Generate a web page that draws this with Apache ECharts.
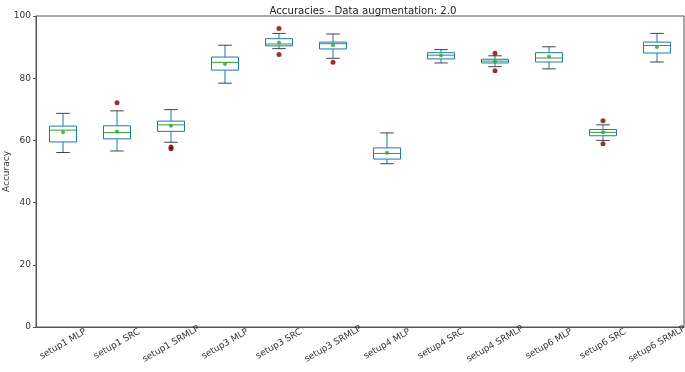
<!DOCTYPE html>
<html>
<head>
<meta charset="utf-8">
<script src="https://cdn.jsdelivr.net/npm/echarts@6/dist/echarts.min.js"></script>
<style>
  html, body { margin: 0; padding: 0; background: #fff; }
  #chart { width: 685px; height: 372px; }
</style>
</head>
<body>
<div id="chart"></div>
<script>
const categories = ['setup1 MLP', 'setup1 SRC', 'setup1 SRMLP', 'setup3 MLP', 'setup3 SRC', 'setup3 SRMLP',
  'setup4 MLP', 'setup4 SRC', 'setup4 SRMLP', 'setup6 MLP', 'setup6 SRC', 'setup6 SRMLP'];

const whiskerLow  = [56.1, 56.6, 59.4, 78.4, 89.5, 86.4, 52.5, 84.9, 83.7, 83.0, 60.0, 85.2];
const q1          = [59.5, 60.5, 62.9, 82.6, 90.4, 89.4, 54.0, 86.2, 84.9, 85.2, 61.5, 88.1];
const medians     = [63.3, 62.5, 65.0, 85.1, 91.0, 91.1, 55.8, 87.4, 85.5, 86.5, 62.6, 90.5];
const q3          = [64.6, 64.7, 66.2, 86.8, 92.7, 91.6, 57.6, 88.2, 86.1, 88.2, 63.5, 91.6];
const whiskerHigh = [68.7, 69.5, 69.9, 90.6, 94.4, 94.2, 62.4, 89.2, 87.2, 90.1, 65.0, 94.4];
const means       = [62.6, 62.9, 64.7, 84.6, 91.5, 90.6, 56.0, 87.3, 85.4, 87.0, 62.6, 90.0];

// [category index, value]
const outliers = [
  [1, 72.1],
  [2, 57.9], [2, 57.3],
  [4, 96.0], [4, 87.6],
  [5, 85.1],
  [8, 88.0], [8, 82.4],
  [10, 66.3], [10, 58.9]
];

const yTicks = [0, 20, 40, 60, 80, 100];

const boxData = categories.map((c, i) => [i, whiskerLow[i], q1[i], medians[i], q3[i], whiskerHigh[i]]);
const meanData = categories.map((c, i) => [i, means[i]]);

function renderBox(params, api) {
  const idx = api.value(0);
  const pLow = api.coord([idx, api.value(1)]);
  const pQ1 = api.coord([idx, api.value(2)]);
  const pMed = api.coord([idx, api.value(3)]);
  const pQ3 = api.coord([idx, api.value(4)]);
  const pHigh = api.coord([idx, api.value(5)]);
  const band = api.size([1, 0])[0];
  const half = band * 0.25;
  const cap = band * 0.125;
  const x = pMed[0];
  const blue = { stroke: '#1f77b4', lineWidth: 1 };
  const capStyle = { stroke: '#444', lineWidth: 1 };
  return {
    type: 'group',
    children: [
      { type: 'line', shape: { x1: x, y1: pQ1[1], x2: x, y2: pLow[1] }, style: blue },
      { type: 'line', shape: { x1: x, y1: pQ3[1], x2: x, y2: pHigh[1] }, style: blue },
      { type: 'line', shape: { x1: x - cap, y1: pLow[1], x2: x + cap, y2: pLow[1] }, style: capStyle },
      { type: 'line', shape: { x1: x - cap, y1: pHigh[1], x2: x + cap, y2: pHigh[1] }, style: capStyle },
      { type: 'rect', shape: { x: x - half, y: pQ3[1], width: half * 2, height: pQ1[1] - pQ3[1] },
        style: { fill: 'none', stroke: '#1f77b4', lineWidth: 1 } },
      { type: 'line', shape: { x1: x - half, y1: pMed[1], x2: x + half, y2: pMed[1] },
        style: { stroke: '#2ca02c', lineWidth: 1 } }
    ]
  };
}

const chart = echarts.init(document.getElementById('chart'));
chart.setOption({
  animation: false,
  textStyle: { fontFamily: 'DejaVu Sans' },
  title: {
    text: 'Accuracies - Data augmentation: 2.0',
    left: 358,
    top: 1,
    textAlign: 'center',
    textStyle: { fontFamily: 'DejaVu Sans', fontSize: 10.2, fontWeight: 'normal', color: '#222' }
  },
  grid: {
    left: 36, right: 1, top: 16, bottom: 45,
    containLabel: false,
    outerBoundsMode: 'none',
    show: true, borderColor: '#555', borderWidth: 1
  },
  xAxis: {
    type: 'category',
    data: categories,
    boundaryGap: true,
    axisLine: { lineStyle: { color: '#555' } },
    axisTick: { alignWithLabel: true, length: 3, lineStyle: { color: '#555' } },
    axisLabel: {
      rotate: 30, align: 'center', verticalAlign: 'middle', margin: 17,
      fontSize: 9, color: '#333', interval: 0
    },
    splitLine: { show: false }
  },
  yAxis: {
    type: 'value',
    min: yTicks[0],
    max: yTicks[yTicks.length - 1],
    interval: 20,
    name: 'Accuracy',
    nameLocation: 'middle',
    nameGap: 25,
    nameMoveOverlap: false,
    nameTextStyle: { fontSize: 9, color: '#333' },
    axisLine: { show: true, lineStyle: { color: '#555' } },
    axisTick: { show: true, length: 3, lineStyle: { color: '#555' } },
    axisLabel: { fontSize: 9, color: '#333', margin: 5 },
    splitLine: { show: false }
  },
  series: [
    {
      type: 'custom',
      renderItem: renderBox,
      data: boxData,
      encode: { x: 0, y: [1, 2, 3, 4, 5] },
      z: 2
    },
    {
      type: 'scatter',
      data: meanData,
      symbol: 'circle',
      symbolSize: 4,
      itemStyle: { color: '#2ca02c' },
      z: 3
    },
    {
      type: 'scatter',
      data: outliers,
      symbol: 'circle',
      symbolSize: 5,
      itemStyle: { color: '#800000' },
      z: 3
    }
  ]
});
</script>
</body>
</html>
